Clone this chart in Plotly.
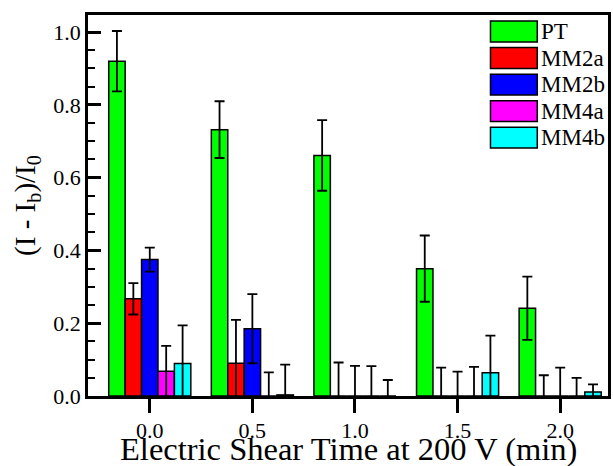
import plotly.graph_objects as go

# ---- data ----
times = [0.0, 0.5, 1.0, 1.5, 2.0]
series_names = ["PT", "MM2a", "MM2b", "MM4a", "MM4b"]
series_colors = ["#00FF00", "#FF0000", "#0000FF", "#FF00FF", "#00FFFF"]

PT = [0.92, 0.732, 0.661, 0.350, 0.241]
PT_err = [0.083, 0.078, 0.097, 0.091, 0.087]
MM2a = [0.267, 0.090, 0.0, 0.0, 0.0]
MM2a_err = [0.043, 0.119, 0.092, 0.078, 0.057]
MM2b = [0.375, 0.185, 0.0, 0.0, 0.0]
MM2b_err = [0.033, 0.095, 0.083, 0.067, 0.078]
MM4a = [0.068, 0.0, 0.0, 0.0, 0.0]
MM4a_err = [0.070, 0.065, 0.082, 0.080, 0.050]
MM4b = [0.089, 0.003, 0.0, 0.064, 0.011]
MM4b_err = [0.105, 0.083, 0.044, 0.102, 0.021]

values = [PT, MM2a, MM2b, MM4a, MM4b]
errors = [PT_err, MM2a_err, MM2b_err, MM4a_err, MM4b_err]

x_title = "Electric Shear Time at 200 V (min)"
y_title = "(I - I<sub>b</sub>)/I<sub>0</sub>"

FONT = "Liberation Serif, Times New Roman, serif"

fig = go.Figure()
for name, color, v, e in zip(series_names, series_colors, values, errors):
    fig.add_trace(go.Bar(
        x=times, y=v, name=name,
        marker=dict(color=color, line=dict(color="black", width=1.5)),
        error_y=dict(type="data", array=e, visible=True, color="black",
                     thickness=1.8, width=5),
        showlegend=False,
    ))

# manual legend with large swatches
shapes = []
annotations = []
sw_x0, sw_x1 = 0.774, 0.864
top = 0.984
sw_h = 0.055
pitch = 0.0696
for i, (name, color) in enumerate(zip(series_names, series_colors)):
    y1 = top - i * pitch
    y0 = y1 - sw_h
    shapes.append(dict(type="rect", xref="paper", yref="paper",
                       x0=sw_x0, x1=sw_x1, y0=y0, y1=y1,
                       fillcolor=color, line=dict(color="black", width=1.5)))
    annotations.append(dict(xref="paper", yref="paper", x=sw_x1 + 0.004,
                            y=(y0 + y1) / 2, text=name, showarrow=False,
                            xanchor="left", yanchor="middle",
                            font=dict(family=FONT, size=23, color="black")))

# x axis title placed as annotation (tight under the tick labels, as in the original)
annotations.append(dict(xref="paper", yref="paper", x=0.5, y=-0.138,
                        text=x_title, showarrow=False,
                        xanchor="center", yanchor="middle",
                        font=dict(family=FONT, size=32.5, color="black")))

fig.update_layout(
    width=613, height=466,
    margin=dict(l=88, r=2, t=15, b=70),
    paper_bgcolor="white", plot_bgcolor="white",
    barmode="group", bargap=0.2, bargroupgap=0,
    font=dict(family=FONT, color="black"),
    shapes=shapes, annotations=annotations,
    showlegend=False,
)
fig.update_xaxes(
    range=[-0.301, 2.233],
    tickvals=times, ticktext=[f"{t:.1f}" for t in times],
    ticks="outside", ticklen=14, tickwidth=3, tickcolor="black",
    ticklabelstandoff=-1,
    showline=True, linewidth=2.5, linecolor="black", mirror=True,
    showgrid=False, zeroline=False,
    tickfont=dict(family=FONT, size=22, color="black"),
)
fig.update_yaxes(
    range=[0, 1.047], dtick=0.2, tick0=0, tickformat=".1f",
    ticks="inside", ticklen=13, tickwidth=2.5, tickcolor="black",
    minor=dict(dtick=0.05, ticks="inside", ticklen=7, tickwidth=2, tickcolor="black"),
    showline=True, linewidth=2.5, linecolor="black", mirror=True,
    showgrid=False, zeroline=False,
    tickfont=dict(family=FONT, size=22, color="black"),
    title=dict(text=y_title,
               font=dict(family=FONT, size=29, color="black"), standoff=10),
)

fig.write_html("out.html")
